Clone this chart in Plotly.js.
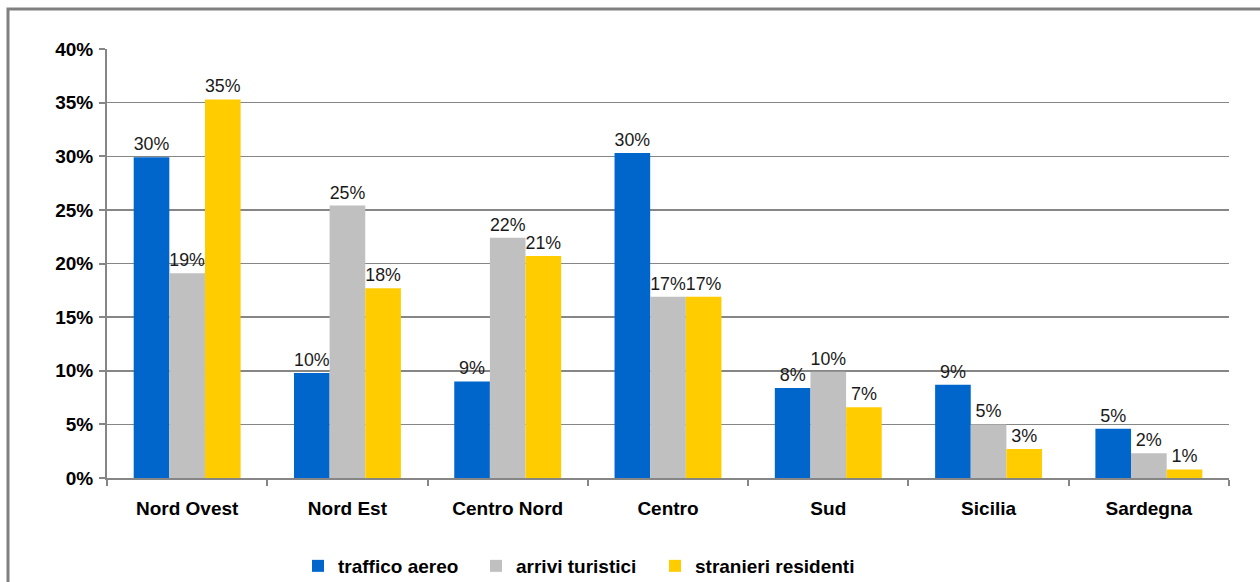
<!DOCTYPE html>
<html>
<head>
<meta charset="utf-8">
<script src="https://cdn.plot.ly/plotly-3.0.1.min.js"></script>
<style>
  html, body { margin: 0; padding: 0; background: #ffffff; }
  #chart { width: 1260px; height: 582px; }
</style>
</head>
<body>
<div id="chart"></div>
<script>
// Regional shares (fraction of national total)
const regions = ['Nord Ovest', 'Nord Est', 'Centro Nord', 'Centro', 'Sud', 'Sicilia', 'Sardegna'];
const trafficoAereo = [0.299, 0.098, 0.090, 0.303, 0.084, 0.087, 0.046];
const arriviTuristici = [0.191, 0.254, 0.224, 0.169, 0.099, 0.050, 0.023];
const stranieriResidenti = [0.353, 0.177, 0.207, 0.169, 0.066, 0.027, 0.008];
const seriesNames = ['traffico aereo', 'arrivi turistici', 'stranieri residenti'];
const seriesColors = ['#0066CC', '#C0C0C0', '#FFCC00'];

const FONT = '"Liberation Sans", Arial, sans-serif';
const AXIS_GRAY = '#868686';

// plot area in pixels: x 107..1229, y 49..478
const W = 1260, H = 582;
const L = 107, R = W - 1229, T = 49, B = H - 478;
const pw = W - L - R, ph = H - T - B;
const px = p => (p - L) / pw;
const py = p => (H - B - p) / ph;

// one legend per series so each key sits at its own left edge
const legendIds = ['legend', 'legend2', 'legend3'];
const legendLeft = [298, 476, 655];
const legendFont = { family: FONT, size: 19, color: '#000000', weight: 'bold' };

const values = [trafficoAereo, arriviTuristici, stranieriResidenti];
const traces = values.map((v, i) => ({
  type: 'bar',
  name: seriesNames[i],
  legend: legendIds[i],
  x: regions,
  y: v,
  marker: { color: seriesColors[i], line: { width: 0 } },
  texttemplate: '%{y:.0%}',
  textposition: 'outside',
  cliponaxis: false,
  textfont: { family: FONT, size: 18, color: '#1a1a1a' },
  hoverinfo: 'skip'
}));

const layout = {
  width: W,
  height: H,
  margin: { l: L, r: R, t: T, b: B, pad: 0, autoexpand: false },
  paper_bgcolor: '#ffffff',
  plot_bgcolor: '#ffffff',
  barmode: 'group',
  bargap: 0.333,
  bargroupgap: 0,
  font: { family: FONT, size: 18, color: '#000000' },
  showlegend: true,
  xaxis: {
    type: 'category',
    showline: true,
    linecolor: AXIS_GRAY,
    linewidth: 2,
    ticks: 'outside',
    tickson: 'boundaries',
    ticklen: 6,
    tickwidth: 2,
    tickcolor: AXIS_GRAY,
    ticklabelstandoff: 12,
    tickfont: { family: FONT, size: 19, color: '#000000', weight: 'bold' },
    showgrid: false,
    fixedrange: true
  },
  yaxis: {
    range: [0, 0.4],
    dtick: 0.05,
    tickformat: '.0%',
    showline: true,
    linecolor: AXIS_GRAY,
    linewidth: 2,
    ticks: 'outside',
    ticklen: 6,
    tickwidth: 2,
    tickcolor: AXIS_GRAY,
    ticklabelstandoff: 2,
    tickfont: { family: FONT, size: 19, color: '#000000', weight: 'bold' },
    showgrid: true,
    gridcolor: AXIS_GRAY,
    gridwidth: 1.5,
    zeroline: false,
    fixedrange: true
  },
  shapes: [{
    type: 'rect',
    xref: 'paper', yref: 'paper',
    x0: px(8), x1: px(1275),
    y0: py(600), y1: py(9),
    line: { color: '#808080', width: 3 },
    fillcolor: 'rgba(0,0,0,0)',
    layer: 'below'
  }]
};

legendIds.forEach((id, i) => {
  layout[id] = {
    orientation: 'h',
    x: px(legendLeft[i]), xanchor: 'left',
    y: py(566), yanchor: 'middle',
    font: legendFont,
    bgcolor: 'rgba(0,0,0,0)',
    itemclick: false
  };
});

Plotly.newPlot('chart', traces, layout, { displayModeBar: false, staticPlot: true });
</script>
</body>
</html>
